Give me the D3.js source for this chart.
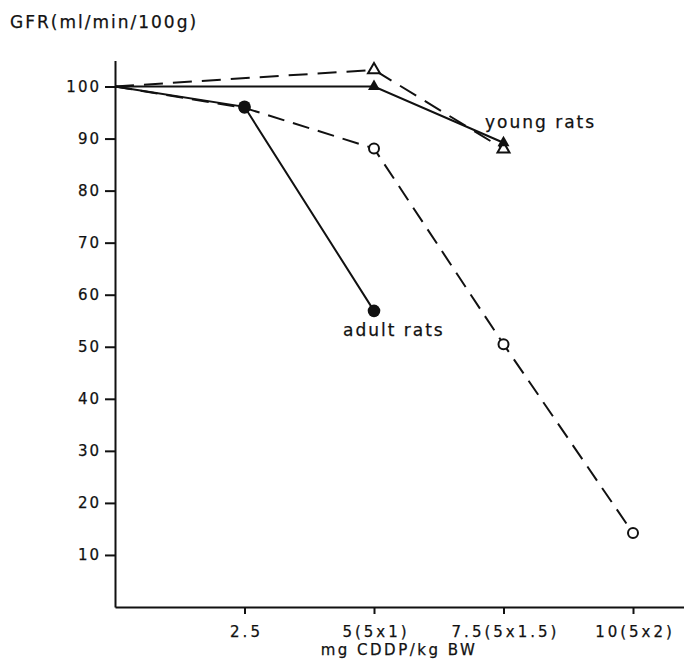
<!DOCTYPE html>
<html>
<head>
<meta charset="utf-8">
<script src="https://cdn.jsdelivr.net/npm/d3@7"></script>
<style>
  html, body { margin: 0; padding: 0; background: #fff; }
  svg { display: block; }
  text { font-family: "DejaVu Sans", sans-serif; fill: #111; stroke: #111; stroke-width: 0.25px; }
</style>
</head>
<body>
<script>
// ---- data ----
const doses = [0, 2.5, 5, 7.5, 10];
const xTickValues = [2.5, 5, 7.5, 10];
const xTickLabels = ["2.5", "5(5x1)", "7.5(5x1.5)", "10(5x2)"];
const yTickValues = [10, 20, 30, 40, 50, 60, 70, 80, 90, 100];

const youngSolidX = [0, 5, 7.5];
const youngSolidY = [100, 100, 89.2];      // filled triangles
const youngDashedX = [0, 5, 7.5];
const youngDashedY = [100, 103.2, 88.0];   // open triangles
const adultSolidX = [0, 2.5, 5];
const adultSolidY = [100, 96.1, 56.9];     // filled circles
const adultDashedX = [0, 2.5, 5, 7.5, 10];
const adultDashedY = [100, 95.9, 88.1, 50.5, 14.2]; // open circles

const yTitle = "GFR(ml/min/100g)";
const xTitle = "mg CDDP/kg BW";
const youngLabel = "young rats";
const adultLabel = "adult rats";

// ---- chart ----
const W = 684, H = 661;
const svg = d3.select("body").append("svg").attr("width", W).attr("height", H);

const x = d3.scaleLinear().domain([0, 11]).range([115, 684.8]);
const y = d3.scaleLinear().domain([0, 105]).range([607, 60.5]);

// y axis
const yAxis = d3.axisLeft(y).tickValues(yTickValues).tickSize(10).tickSizeOuter(0).tickPadding(6);
const gy = svg.append("g").attr("transform", `translate(${x(0)},0)`).call(yAxis);
gy.select(".domain").attr("stroke", "#111").attr("stroke-width", 2);
gy.selectAll(".tick line").attr("stroke", "#111").attr("stroke-width", 2);
gy.selectAll(".tick text").attr("font-size", 15).attr("letter-spacing", 2).attr("dx", 2)
  .style("font-family", "DejaVu Sans, sans-serif").attr("fill", "#111");

// x axis
const xAxis = d3.axisBottom(x).tickValues(xTickValues).tickSize(7).tickSizeOuter(0).tickPadding(12)
  .tickFormat((d, i) => xTickLabels[i]);
const gx = svg.append("g").attr("transform", `translate(0,${y(0)})`).call(xAxis);
gx.select(".domain").attr("stroke", "#111").attr("stroke-width", 2);
gx.selectAll(".tick line").attr("stroke", "#111").attr("stroke-width", 2);
gx.selectAll(".tick text").attr("font-size", 15).attr("letter-spacing", 3).attr("dx", 1.5)
  .style("font-family", "DejaVu Sans, sans-serif").attr("fill", "#111");

// titles
svg.append("text").attr("x", 10).attr("y", 28).attr("font-size", 17).attr("letter-spacing", 2).text(yTitle);
svg.append("text").attr("x", 399).attr("y", 655).attr("text-anchor", "middle")
  .attr("font-size", 15).attr("letter-spacing", 2.5).text(xTitle);

// lines
const line = d3.line().x(d => x(d[0])).y(d => y(d[1]));
const zip = (xs, ys) => xs.map((v, i) => [v, ys[i]]);

const series = [
  { pts: zip(adultDashedX, adultDashedY), dash: "17,9", marker: "opencircle" },
  { pts: zip(youngDashedX, youngDashedY), dash: "19,10", marker: "opentri" },
  { pts: zip(youngSolidX, youngSolidY), dash: null, marker: "filltri" },
  { pts: zip(adultSolidX, adultSolidY), dash: null, marker: "fillcircle" },
];

series.forEach(s => {
  svg.append("path").datum(s.pts).attr("d", line)
    .attr("fill", "none").attr("stroke", "#111").attr("stroke-width", 2)
    .attr("stroke-dasharray", s.dash);
});

const triSym = d3.symbol().type(d3.symbolTriangle).size(62);
series.forEach(s => {
  const pts = s.pts.slice(1);
  const g = svg.append("g");
  if (s.marker === "opencircle") {
    g.selectAll("circle").data(pts).join("circle")
      .attr("cx", d => x(d[0])).attr("cy", d => y(d[1])).attr("r", 5)
      .attr("fill", "#fff").attr("stroke", "#111").attr("stroke-width", 2);
  } else if (s.marker === "fillcircle") {
    g.selectAll("circle").data(pts).join("circle")
      .attr("cx", d => x(d[0])).attr("cy", d => y(d[1])).attr("r", 6.3)
      .attr("fill", "#111");
  } else if (s.marker === "opentri") {
    g.selectAll("path").data(pts).join("path")
      .attr("d", triSym).attr("transform", d => `translate(${x(d[0])},${y(d[1])})`)
      .attr("fill", "#fff").attr("stroke", "#111").attr("stroke-width", 2);
  } else {
    g.selectAll("path").data(pts).join("path")
      .attr("d", triSym).attr("transform", d => `translate(${x(d[0])},${y(d[1])})`)
      .attr("fill", "#111");
  }
});

// annotations
svg.append("text").attr("x", 485).attr("y", 128).attr("font-size", 17).attr("letter-spacing", 2).text(youngLabel);
svg.append("text").attr("x", 343).attr("y", 336).attr("font-size", 17).attr("letter-spacing", 2).text(adultLabel);
</script>
</body>
</html>
